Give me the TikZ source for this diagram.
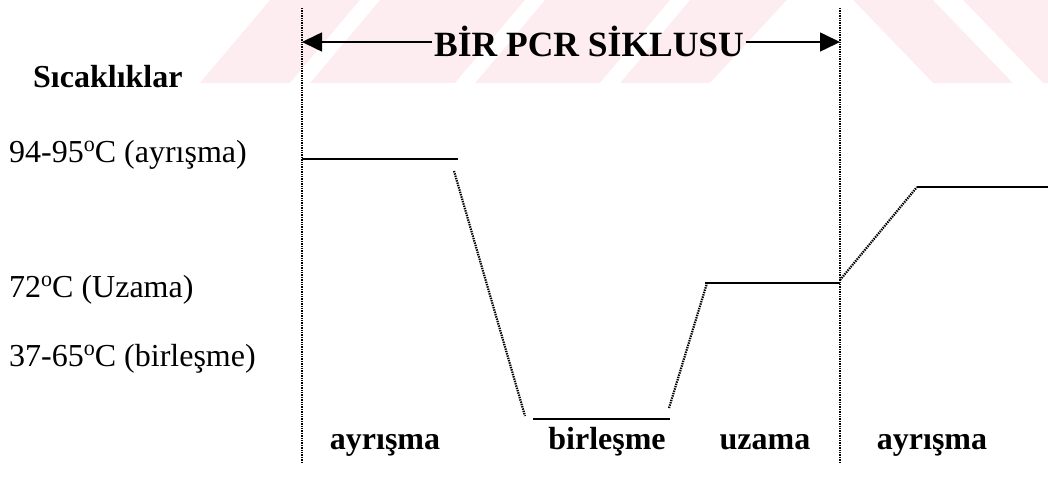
\documentclass[tikz,border=0pt]{standalone}
\usepackage{fontspec}
\setmainfont{Liberation Serif}
\usetikzlibrary{arrows.meta}
\definecolor{wmpink}{RGB}{253,236,240}
\newcommand{\degsign}{\raisebox{11pt}{\fontsize{22}{22}\selectfont o}}
\begin{document}
\begin{tikzpicture}[x=1pt,y=-1pt,
  lbl/.style={font=\fontsize{32}{38}\selectfont, inner sep=0pt, anchor=base west},
  head/.style={font=\fontsize{32}{38}\selectfont\bfseries, inner sep=0pt, anchor=base west},
  phase/.style={font=\fontsize{32}{38}\selectfont\bfseries, inner sep=0pt, anchor=base},
  guide/.style={line width=2.2pt, dash pattern=on 1.4pt off 1pt},
  ramp/.style={line width=2.2pt, dash pattern=on 1.4pt off 1pt},
  hold/.style={line width=2pt},
  span/.style={line width=1.6pt, -{Triangle[length=20pt,width=19pt]}}]
\useasboundingbox (0,0) rectangle (1048,481);

% faint striped band behind the title
\begin{scope}
  \clip (0,0) rectangle (1048,83);
  \fill[wmpink] (200,83) -- (270,0) -- (1048,0) -- (1048,83) -- cycle;
  \fill[white] (360,0) -- (380,0) -- (310,83) -- (290,83) -- cycle;
  \fill[white] (525,0) -- (545,0) -- (475,83) -- (455,83) -- cycle;
  \fill[white] (670,0) -- (690,0) -- (620,83) -- (600,83) -- cycle;
  \fill[white] (787,0) -- (853,0) -- (933,83) -- (710,83) -- cycle;
  \fill[white] (933,0) -- (963,0) -- (1043,83) -- (1013,83) -- cycle;
\end{scope}

% cycle boundaries
\coordinate (gLt) at (302,8);
\coordinate (gLb) at (302,462);
\coordinate (gRt) at (840,8);
\coordinate (gRb) at (840,462);
\draw[guide] (gLt) -- (gLb);
\draw[guide] (gRt) -- (gRb);

% title with span arrows
\node[font=\fontsize{35.5}{42}\selectfont\bfseries, inner sep=1.5pt] (title) at (589,41) {BİR PCR SİKLUSU};
\coordinate (aL) at (302,42);
\coordinate (aR) at (840,42);
\draw[span] (title.west |- aL) -- (aL);
\draw[span] (title.east |- aR) -- (aR);

% temperature axis labels
\node[head] (ttl) at (33,88) {Sıcaklıklar};
\node[lbl] (tden) at (9,163) {94-95\degsign C (ayrışma)};
\node[lbl] (text) at (9,297) {72\degsign C (Uzama)};
\node[lbl] (tann) at (9,366) {37-65\degsign C (birleşme)};

% temperature profile
\coordinate (d1a) at (302,159);
\coordinate (d1b) at (458,159);
\coordinate (r1a) at (454,171);
\coordinate (r1b) at (525,416);
\coordinate (a1a) at (533,419);
\coordinate (a1b) at (670,419);
\coordinate (r2a) at (669,408);
\coordinate (r2b) at (707,283);
\coordinate (e1a) at (705,283);
\coordinate (e1b) at (840,283);
\coordinate (r3a) at (840,280);
\coordinate (r3b) at (917,187);
\coordinate (d2a) at (917,187);
\coordinate (d2b) at (1048,187);
\draw[hold] (d1a) -- (d1b);
\draw[ramp] (r1a) -- (r1b);
\draw[hold] (a1a) -- (a1b);
\draw[ramp] (r2a) -- (r2b);
\draw[hold] (e1a) -- (e1b);
\draw[ramp] (r3a) -- (r3b);
\draw[hold] (d2a) -- (d2b);

% step names
\node[phase] (p1) at (385,449) {ayrışma};
\node[phase] (p2) at (607,449) {birleşme};
\node[phase] (p3) at (765,449) {uzama};
\node[phase] (p4) at (932,449) {ayrışma};
\end{tikzpicture}
\end{document}
